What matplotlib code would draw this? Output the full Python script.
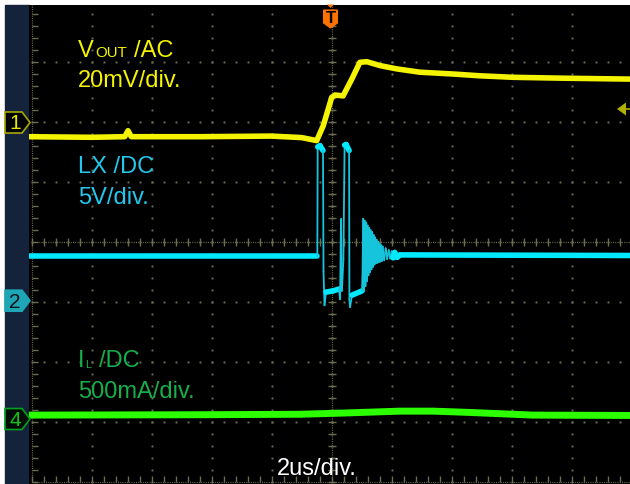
import numpy as np
import matplotlib
matplotlib.use("Agg")
import matplotlib.pyplot as plt
from matplotlib.patches import Polygon, Rectangle
from matplotlib.collections import LineCollection

plt.rcParams['font.family'] = ['Liberation Sans', 'DejaVu Sans']

# scope screen geometry (pixels of the 630x485 screenshot)
W, H = 630, 485
X0, Y0 = 331.7, 242.7      # graticule centre
PX_US = 30.0               # 2us/div -> 60 px per div
PX_DIV = 60.0

def px_x(x):
    return (x - X0) / PX_US

def px_y(y):
    return (Y0 - y) / PX_DIV

# channel settings: scale per div, ground marker position in div
VOUT_SCALE, VOUT_OFFSET = 20.0, 2.0    # mV/div, AC
LX_SCALE, LX_OFFSET = 5.0, -1.0        # V/div, DC
IL_SCALE, IL_OFFSET = 500.0, -3.0      # mA/div, DC

# ch1 Vout, AC coupled (us, mV)
vout_t = [-10.1, -8.0, -6.9, -6.79, -6.68, -4.4, -2.0, -1.0, -0.5, -0.28, 0.0,
          0.11, 0.38, 0.67, 0.94, 1.17, 1.61, 2.17, 2.94, 4.04, 4.94, 6.04, 7.71, 9.95]
vout_mv = [-5.0, -5.2, -5.0, -3.0, -5.0, -5.0, -4.8, -5.3, -6.3, -1.3, 8.1,
           8.9, 8.6, 14.2, 19.8, 20.0, 18.7, 17.6, 16.5, 15.9, 15.3, 14.8, 14.5, 14.2]

# ch2 LX switch node (us, V)
lx_t = [-10.1, -0.48, -0.467, -0.39, -0.29, -0.273, -0.24, -0.19, 0.04, 0.24,
        0.28, 0.31, 0.34, 0.39, 0.43, 0.48, 0.58, 0.59, 0.61, 0.68, 1.01, 1.03,
        1.05, 1.075, 1.10, 1.125, 1.15, 1.175, 1.20, 1.225, 1.25, 1.275, 1.30, 1.325,
        1.35, 1.375, 1.40, 1.425, 1.45, 1.475, 1.50, 1.525, 1.55, 1.575, 1.60, 1.625,
        1.65, 1.675, 1.70, 1.75, 1.80, 1.85, 1.90, 1.95, 2.00, 2.05, 2.10, 2.18,
        2.28, 9.95]
lx_v = [3.8, 3.8, 12.9, 13.0, 12.6, 2.5, -0.3, 0.8, 0.9, 1.05,
        0.2, 6.9, 0.9, 3.55, 13.05, 13.1, 12.6, 0.2, -0.45, 0.55, 0.9, 2.7,
        6.9, 0.9, 6.75, 1.3, 6.6, 1.7, 6.35, 2.2, 6.15, 2.45, 5.95, 2.7,
        5.8, 2.9, 5.55, 3.1, 5.35, 3.2, 5.15, 3.25, 5.0, 3.3, 4.8, 3.35,
        4.7, 3.4, 4.6, 3.45, 4.45, 3.55, 4.3, 3.6, 4.2, 3.65, 4.1, 3.7,
        3.9, 3.85]

# ch4 inductor current (us, mA)
il_t = [-10.1, -4.4, -1.06, 0.38, 2.28, 3.38, 4.51, 6.71, 9.95]
il_ma = [55, 58, 62, 72, 88, 88, 78, 55, 52]

YELLOW = '#f4f400'
CYAN = '#00eaff'
CYAN_EDGE = '#16c4dc'
GREEN = '#2cff00'
GRID = '#6c6c52'

fig = plt.figure(figsize=(W / 100, H / 100), dpi=100)
fig.patch.set_facecolor('white')
fig.patches.append(Rectangle((5 / W, 0), 23.5 / W, (H - 5.5) / H, zorder=-1,
                             transform=fig.transFigure, color='#14233b'))

ax = fig.add_axes([28.5 / W, 0, (W - 28.5) / W, (H - 5.5) / H])
ax.set_zorder(2)
ax.set_facecolor('black')
ax.set_xlim(px_x(28.5), px_x(W))
ax.set_ylim(px_y(H), px_y(5.5))
ax.set_xticks([])
ax.set_yticks([])
for s in ax.spines.values():
    s.set_visible(False)

# graticule
ydots = np.arange(-4, 4.01, 0.2)
tdots = np.arange(-10, 10.01, 0.4)
for xt in np.arange(-8, 9, 2):
    ax.plot(np.full_like(ydots, xt), ydots, 's', ms=1.4, mew=0, color=GRID, zorder=1)
for yd in range(-3, 4):
    ax.plot(tdots, np.full_like(tdots, yd), 's', ms=1.4, mew=0, color=GRID, zorder=1)
# centre cross and borders
dense = dict(color=GRID, lw=0.9, ls=(0, (0.8, 1.0)), zorder=1)
ax.plot([0, 0], [-4, 4], **dense)
ax.plot([-10, 10], [0, 0], **dense)
ax.plot([-10, -10], [-4, 4], **dense)
ax.plot([-10, 10], [-4, -4], **dense)
ax.plot(np.zeros_like(ydots), ydots, '_', ms=6, mew=1, color=GRID, zorder=1)
ax.plot(tdots, np.zeros_like(tdots), '|', ms=6, mew=1, color=GRID, zorder=1)
ax.plot(np.full_like(ydots, -10), ydots, marker=1, ls='none', ms=4, mew=1, color=GRID, zorder=1)
ax.plot(tdots, np.full_like(tdots, -4), marker=2, ls='none', ms=4, mew=1, color=GRID, zorder=1)

# traces
vy = VOUT_OFFSET + np.array(vout_mv) / VOUT_SCALE
ax.plot(vout_t, vy, color=YELLOW, lw=4.0, solid_joinstyle='round', zorder=3)

iy = IL_OFFSET + np.array(il_ma) / IL_SCALE
ax.plot(il_t, iy, color=GREEN, lw=5.0, solid_joinstyle='round', zorder=3)

lt = np.array(lx_t)
ly = LX_OFFSET + np.array(lx_v) / LX_SCALE
segs = np.stack([np.column_stack([lt[:-1], ly[:-1]]),
                 np.column_stack([lt[1:], ly[1:]])], axis=1)
dx = np.abs(np.diff(lt)) * PX_US
dy = np.abs(np.diff(ly)) * PX_DIV
steep = (dy > 3 * dx) & (dy > 6)
ax.add_collection(LineCollection(segs, colors=np.where(steep, CYAN_EDGE, CYAN),
                                 linewidths=np.where(steep, 1.3, 4.0),
                                 capstyle='round', zorder=4))

# labels
fs = 17
ax.text(px_x(78), px_y(57.3), 'V', color=YELLOW, fontsize=fs, va='baseline', zorder=6)
ax.text(px_x(95), px_y(57.3), 'OUT', color=YELLOW, fontsize=10.8, va='baseline', zorder=6)
ax.text(px_x(134), px_y(57.3), '/AC', color=YELLOW, fontsize=fs, va='baseline', zorder=6)
ax.text(px_x(78), px_y(87.3), '20mV/div.', color=YELLOW, fontsize=fs, va='baseline', zorder=6)

LXC = '#22c8ee'
ax.text(px_x(78), px_y(173.3), 'LX /DC', color=LXC, fontsize=fs, va='baseline', zorder=6)
ax.text(px_x(78), px_y(203.8), '5V/div.', color=LXC, fontsize=fs, va='baseline', zorder=6)

ILC = '#14b04c'
ax.text(px_x(78), px_y(366.7), 'I', color=ILC, fontsize=fs, va='baseline', zorder=6)
ax.text(px_x(85.5), px_y(367.7), 'L', color=ILC, fontsize=8, va='baseline', zorder=6)
ax.text(px_x(99), px_y(366.7), '/DC', color=ILC, fontsize=fs, va='baseline', zorder=6)
ax.text(px_x(78), px_y(397.7), '500mA/div.', color=ILC, fontsize=fs, va='baseline', zorder=6)

ax.text(px_x(277), px_y(475), '2us/div.', color='white', fontsize=fs, va='baseline', zorder=6)

# channel ground tags on the left
def channel_tag(yc, face, edge, txt, txtcolor):
    pts = [(5, yc - 10.5), (22, yc - 10.5), (30, yc), (22, yc + 10.5), (5, yc + 10.5)]
    ax.add_patch(Polygon([(px_x(a), px_y(b)) for a, b in pts], closed=True,
                         fc=face, ec=edge, lw=1.2, clip_on=False, zorder=7))
    ax.text(px_x(15), px_y(yc + 0.5), txt, color=txtcolor, fontsize=15,
            ha='center', va='center', clip_on=False, zorder=8)

channel_tag(123.5, '#000000', '#a8a800', '1', '#e8e800')
channel_tag(301.7, '#1fa6b6', '#1fa6b6', '2', '#061418')
channel_tag(420.0, '#020c04', '#00a020', '4', '#18c018')

# trigger position marker
tpts = [(323.5, 11), (337.5, 11), (337.5, 24), (330.5, 29), (323.5, 24)]
ax.add_patch(Polygon([(px_x(a), px_y(b)) for a, b in tpts], closed=True,
                     fc='#ff7200', ec='#ff7200', lw=0.8, clip_on=False, zorder=7))
ax.add_patch(Polygon([(px_x(a), px_y(b)) for a, b in [(327, 5.5), (334, 5.5), (330.5, 9)]],
                     closed=True, fc='#ff7200', ec='none', clip_on=False, zorder=7))
ax.text(px_x(330.5), px_y(18.5), 'T', color='black', fontsize=12, fontweight='bold',
        ha='center', va='center', zorder=8)

# trigger level marker on the right
ax.add_patch(Polygon([(px_x(a), px_y(b)) for a, b in [(617, 110), (626, 103.5), (626, 116.5)]],
                     closed=True, fc='#b0b000', ec='none', clip_on=False, zorder=7))
ax.plot([px_x(625), px_x(630)], [px_y(110), px_y(110)], color='#b0b000', lw=1.2, zorder=7)

fig.savefig('out.png', dpi=100)
